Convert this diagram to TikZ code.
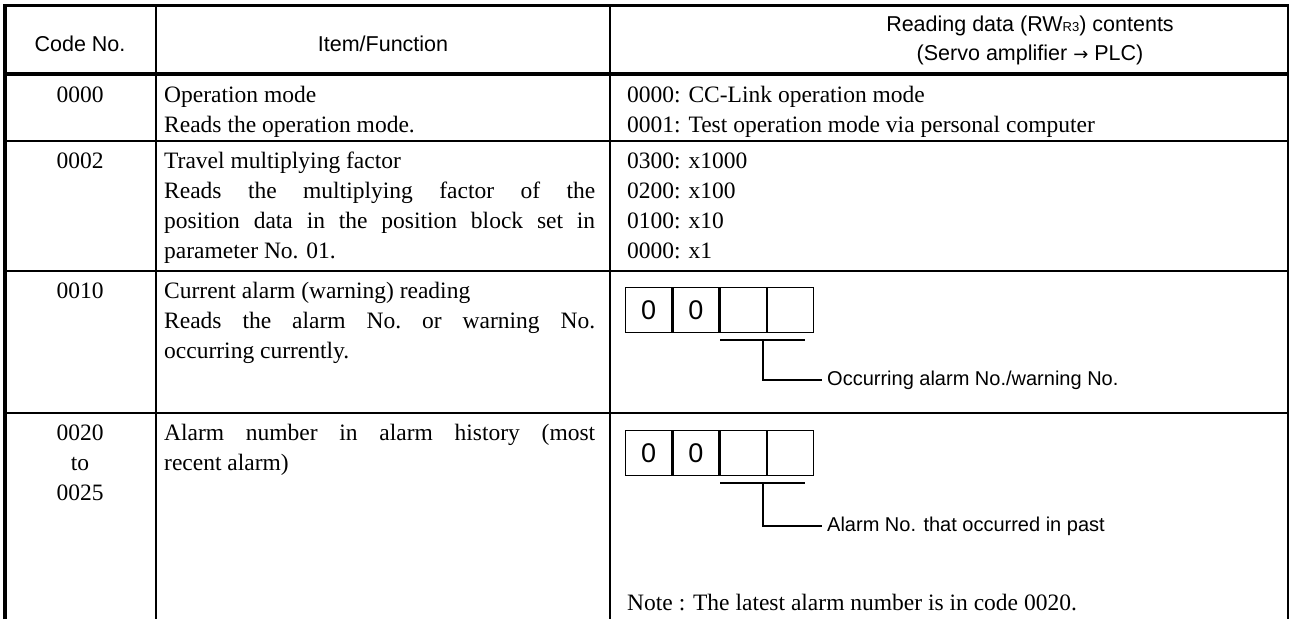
\documentclass[tikz,border=0pt]{standalone}
\usepackage{fontspec}
\setmainfont{Liberation Serif}
\newfontfamily\hdfont{Liberation Sans}
\newfontfamily\symfont{DejaVu Sans}
\begin{document}
\begin{tikzpicture}[x=1pt,y=-1pt,
  heavy/.style={line width=3.6pt},
  rule/.style={line width=2pt},
  hair/.style={line width=1.3pt},
  hd/.style={font=\hdfont\fontsize{21.5}{25}\selectfont, inner sep=0pt},
  bd/.style={font=\fontsize{23.5}{30}\selectfont, inner sep=0pt},
  lbl/.style={font=\hdfont\fontsize{20}{23}\selectfont, inner ysep=0pt, inner xsep=5pt},
  dig/.style={font=\hdfont\fontsize{27}{30}\selectfont, inner sep=0pt},
  cell/.style={draw, line width=1.3pt, minimum width=46pt, minimum height=45pt, inner sep=0pt, anchor=north west}]
\useasboundingbox (0,0) rectangle (1289,619);

% ---------- grid ----------
\draw[rule] (156,5.5) -- (156,619);
\draw[rule] (610,5.5) -- (610,619);
\draw[rule] (5,141) -- (1288,141);
\draw[rule] (5,271) -- (1288,271);
\draw[rule] (5,413) -- (1288,413);
\draw[hair] (1288,5.5) -- (1288,619);
\draw[heavy] (5,74) -- (1288,74);
\draw[heavy] (5,619) -- (5,5.5) -- (1289,5.5);

% ---------- header ----------
\node[hd, anchor=base] (hcode) at (80,51) {Code No.};
\node[hd, anchor=base] (hitem) at (383,51) {Item/Function};
\node[hd, anchor=base] (hread1) at (1030,31) {Reading data (RW{\fontsize{13}{13}\selectfont R3}) contents};
\node[hd, anchor=base] (hread2) at (1030,60) {(Servo amplifier {\symfont\fontsize{18}{18}\selectfont →} PLC)};

% ---------- code column ----------
\node[bd, anchor=base] (c0) at (80,102) {0000};
\node[bd, anchor=base] (c2) at (80,168) {0002};
\node[bd, anchor=base] (c10) at (80,298) {0010};
\node[bd, anchor=base] (c20a) at (80,440) {0020};
\node[bd, anchor=base] (c20b) at (80,470) {to};
\node[bd, anchor=base] (c20c) at (80,500) {0025};

% ---------- item/function column ----------
\node[bd, anchor=base west] (i0a) at (164,102) {Operation mode};
\node[bd, anchor=base west] (i0b) at (164,132) {Reads the operation mode.};
\node[bd, anchor=base west] (i2a) at (164,168) {Travel multiplying factor};
\node[bd, anchor=base west] (i2b) at (164,198) {\makebox[431pt][s]{Reads the multiplying factor of the}};
\node[bd, anchor=base west] (i2c) at (164,228) {\makebox[431pt][s]{position data in the position block set in}};
\node[bd, anchor=base west] (i2d) at (164,258) {parameter No. 01.};
\node[bd, anchor=base west] (i10a) at (164,298) {Current alarm (warning) reading};
\node[bd, anchor=base west] (i10b) at (164,328) {\makebox[431pt][s]{Reads the alarm No.\ or warning No.}};
\node[bd, anchor=base west] (i10c) at (164,358) {occurring currently.};
\node[bd, anchor=base west] (i20a) at (164,440) {\makebox[431pt][s]{Alarm number in alarm history (most}};
\node[bd, anchor=base west] (i20b) at (164,470) {recent alarm)};

% ---------- reading data column ----------
\node[bd, anchor=base west] (r0a) at (627,102) {0000: CC-Link operation mode};
\node[bd, anchor=base west] (r0b) at (627,132) {0001: Test operation mode via personal computer};
\node[bd, anchor=base west] (r2a) at (627,168) {0300: x1000};
\node[bd, anchor=base west] (r2b) at (627,198) {0200: x100};
\node[bd, anchor=base west] (r2c) at (627,228) {0100: x10};
\node[bd, anchor=base west] (r2d) at (627,258) {0000: x1};

% current alarm digits
\node[cell] (a1) at (625,287) {};
\node[cell] (a2) at (a1.north east) {};
\node[cell] (a3) at (a2.north east) {};
\node[cell] (a4) at (a3.north east) {};
\node[dig] at (a1) {0};
\node[dig] at (a2) {0};
\coordinate (au1) at (720,340);
\coordinate (au2) at (805,340);
\coordinate (aj) at (763,340);
\coordinate (ak) at (763,380);
\draw[hair] (au1) -- (au2);
\node[lbl, anchor=west] (alab) at (822,380) {Occurring alarm No./warning No.};
\draw[hair] (aj) -- (ak) -- (alab.west);

% alarm history digits
\node[cell] (b1) at (625,430) {};
\node[cell] (b2) at (b1.north east) {};
\node[cell] (b3) at (b2.north east) {};
\node[cell] (b4) at (b3.north east) {};
\node[dig] at (b1) {0};
\node[dig] at (b2) {0};
\coordinate (bu1) at (720,483);
\coordinate (bu2) at (805,483);
\coordinate (bj) at (763,483);
\coordinate (bk) at (763,526);
\draw[hair] (bu1) -- (bu2);
\node[lbl, anchor=west] (blab) at (822,526) {Alarm No. that occurred in past};
\draw[hair] (bj) -- (bk) -- (blab.west);

\node[bd, anchor=base west] (note) at (627,610) {Note : The latest alarm number is in code 0020.};
\end{tikzpicture}
\end{document}
